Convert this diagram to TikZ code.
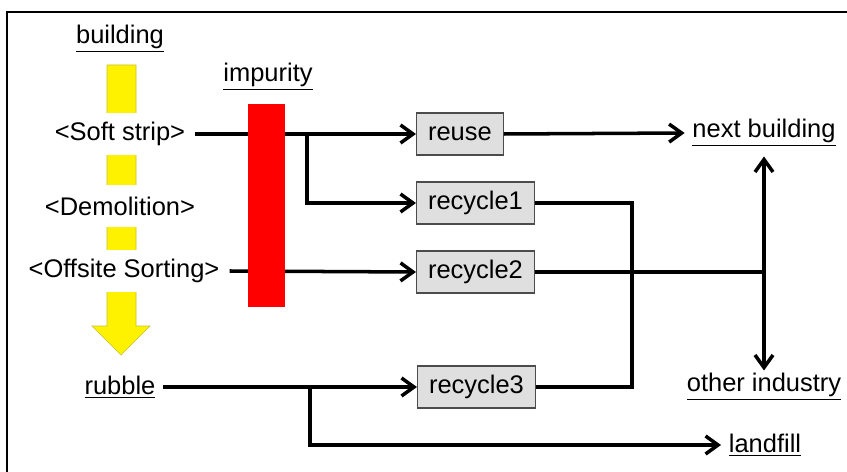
\documentclass[tikz,border=0pt]{standalone}
\usepackage{fontspec}
\setmainfont{Liberation Sans}
\usetikzlibrary{arrows.meta}

\tikzset{
    flow/.style={line width=2pt, -{Straight Barb[length=0.25cm, width=0.36cm]}},
    pipe/.style={line width=2pt},
    stage/.style={fill=white, inner xsep=0.2cm, minimum height=0.84cm},
    place/.style={fill=white, inner sep=0.15cm},
    route/.style={draw=black!70, line width=0.6pt, fill=gray!25, inner xsep=0.23cm, minimum height=0.84cm, anchor=west},
}

\begin{document}
\begin{tikzpicture}[x=0.02cm, y=-0.02cm, font=\fontsize{14.5}{17}\selectfont]
    \useasboundingbox (0, 0) rectangle (847, 472);

    % Frame (only top and left edges are visible)
    \draw[line width=1.2pt] (850, 12) -- (7, 12) -- (7, 475);

    % Yellow process arrow
    \draw[yellow!75!black, line width=0.3pt, fill=yellow]
        (107, 65) -- (136, 65) -- (136, 326) -- (150, 326) -- (121, 355)
        -- (92, 326) -- (107, 326) -- cycle;

    % Process stages
    \node[place] (building) at (120, 39) {\underline{building}};
    \node[stage] (soft) at (120, 134) {<Soft strip>};
    \node[stage] (demol) at (120, 206) {<Demolition>};
    \node[stage] (offsite) at (124, 271) {<Offsite Sorting>};
    \node[place] (rubble) at (120, 387) {\underline{rubble}};

    % Impurity label
    \node[place] (impurity) at (268, 77) {\underline{impurity}};

    % Routes
    \node[route] (reuse) at (416, 134) {reuse};
    \node[route] (rec1) at (416, 203) {recycle1};
    \node[route] (rec2) at (416, 272) {recycle2};
    \node[route] (rec3) at (417, 387) {recycle3};

    % Destinations
    \node[place] (next) at (764, 133) {\underline{next building}};
    \node[place] (other) at (764, 387) {\underline{other industry}};
    \node[place] (landfill) at (765, 445) {\underline{landfill}};

    % Branch points
    \coordinate (split1) at (307, 134);
    \coordinate (split2) at (310, 387);
    \coordinate (join) at (632, 387);
    \coordinate (hub) at (764, 272);

    % Flows from the stages
    \draw[flow] (soft.east) -- (reuse.west);
    \draw[flow] (split1) |- (rec1.west);
    \draw[flow] (offsite.east) -- (rec2.west);
    \draw[flow] (rubble.east) -- (rec3.west);
    \draw[flow] (split2) |- (landfill.west);

    % Flows to the destinations
    \draw[flow] (reuse.east) -- (next.west);
    \draw[pipe] (rec1.east) -| (join) -- (rec3.east);
    \draw[pipe] (rec2.east) -- (hub);
    \draw[flow, {Straight Barb[length=0.25cm, width=0.36cm]}-{Straight Barb[length=0.25cm, width=0.36cm]}]
        (next.south) ++(0, 2) -- ([yshift=-0.1cm]other.north);

    % Impurity bar
    \fill[red] (248, 104) rectangle (285, 307);
\end{tikzpicture}
\end{document}
